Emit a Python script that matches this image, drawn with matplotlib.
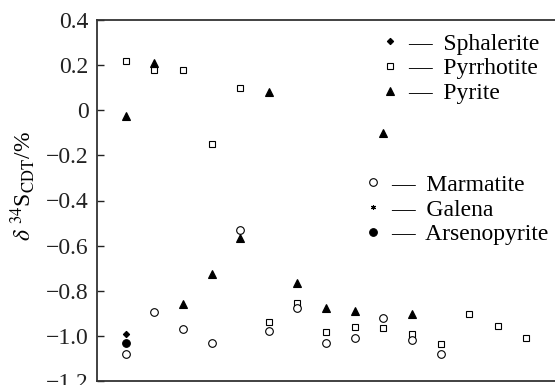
import matplotlib
matplotlib.use("Agg")
from matplotlib import pyplot as plt
from matplotlib.lines import Line2D

plt.rcParams["font.family"] = ["Liberation Serif", "DejaVu Serif"]
plt.rcParams["mathtext.fontset"] = "stix"

# sample number along the profile
sphalerite_x = [1]
sphalerite_y = [-0.99]

pyrrhotite_x = [1, 2, 3, 4, 5, 6, 7, 8, 9, 10, 11, 12, 13, 14, 15]
pyrrhotite_y = [0.22, 0.18, 0.18, -0.15, 0.10, -0.94, -0.855, -0.985, -0.96, -0.965,
                -0.99, -1.035, -0.905, -0.955, -1.01]

pyrite_x = [1, 2, 3, 4, 5, 6, 7, 8, 9, 10, 11]
pyrite_y = [-0.025, 0.21, -0.86, -0.725, -0.565, 0.08, -0.765, -0.875, -0.89, -0.10, -0.905]

marmatite_x = [1, 2, 3, 4, 5, 6, 7, 8, 9, 10, 11, 12]
marmatite_y = [-1.08, -0.895, -0.97, -1.03, -0.53, -0.98, -0.875, -1.03, -1.01, -0.92,
               -1.02, -1.08]

galena_x = []
galena_y = []

arsenopyrite_x = [1]
arsenopyrite_y = [-1.03]

yticks = [-1.2, -1.0, -0.8, -0.6, -0.4, -0.2, 0, 0.2, 0.4]
ytick_labels = ["\u22121.2", "\u22121.0", "\u22120.8", "\u22120.6", "\u22120.4", "\u22120.2",
                "0", "0.2", "0.4"]

fig = plt.figure(figsize=(5.55, 3.85), dpi=100)
ax = fig.add_axes([97 / 555, 1 - 381 / 385, 1 - 97 / 555, (381 - 20) / 385])

mk = dict(linestyle="none", color="black", markeredgewidth=0.8)
styles = {
    "Sphalerite": dict(marker="D", markersize=3.2, markerfacecolor="black"),
    "Pyrrhotite": dict(marker="s", markersize=5, markerfacecolor="white"),
    "Pyrite": dict(marker="^", markersize=6, markerfacecolor="black"),
    "Marmatite": dict(marker="o", markersize=5.5, markerfacecolor="white"),
    "Galena": dict(marker=(6, 2, 0), markersize=3.5, markerfacecolor="black"),
    "Arsenopyrite": dict(marker="o", markersize=5.5, markerfacecolor="black"),
}

ax.plot(pyrrhotite_x, pyrrhotite_y, **mk, **styles["Pyrrhotite"])
ax.plot(marmatite_x, marmatite_y, **mk, **styles["Marmatite"])
ax.plot(pyrite_x, pyrite_y, **mk, **styles["Pyrite"])
ax.plot(sphalerite_x, sphalerite_y, **mk, **styles["Sphalerite"])
ax.plot(arsenopyrite_x, arsenopyrite_y, **mk, **styles["Arsenopyrite"])
ax.plot(galena_x, galena_y, **mk, **styles["Galena"])

ax.set_xlim(0, 16)
ax.set_ylim(-1.2, 0.4)
ax.set_xticks([])
ax.set_yticks(yticks)
ax.set_yticklabels(ytick_labels)
ax.tick_params(axis="y", direction="in", length=5, width=1, pad=6, labelsize=17, colors="#222222")

for side in ["top", "bottom", "left"]:
    ax.spines[side].set_linewidth(1.3)
    ax.spines[side].set_color("#333333")
ax.spines["right"].set_visible(False)

ax.set_ylabel(r"$\delta$ $^{34}$S$_{\mathrm{CDT}}$/%", fontsize=17)
ax.yaxis.set_label_coords(-0.13, 0.54)


def make_legend(names, anchor):
    handles = [Line2D([], [], **mk, **styles[n]) for n in names]
    labels = ["\u2014  " + n for n in names]
    leg = ax.legend(handles, labels, loc="upper left", bbox_to_anchor=anchor, frameon=False,
                    fontsize=17, handlelength=0.5, handletextpad=0.5, borderpad=0,
                    borderaxespad=0, labelspacing=0.14)
    return leg


leg1 = make_legend(["Sphalerite", "Pyrrhotite", "Pyrite"], (0.627, 0.964))
ax.add_artist(leg1)
make_legend(["Marmatite", "Galena", "Arsenopyrite"], (0.590, 0.573))

fig.savefig("out.png", dpi=100)
